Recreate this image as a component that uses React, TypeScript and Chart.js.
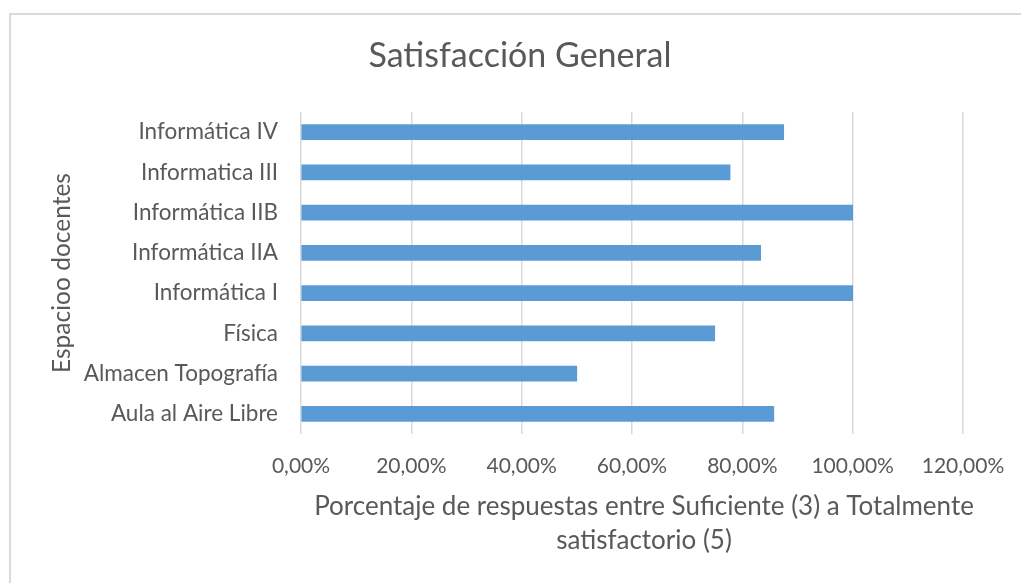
import React, { useEffect, useRef } from "react";
import { Chart, registerables } from "chart.js";

Chart.register(...registerables);

const categories: string[] = [
  "Informática IV",
  "Informatica III",
  "Informática IIB",
  "Informática IIA",
  "Informática I",
  "Física",
  "Almacen Topografía",
  "Aula al Aire Libre",
];

const seriesValues: number[] = [87.5, 77.78, 100, 83.33, 100, 75, 50, 85.71];

const xTickValues: number[] = [0, 20, 40, 60, 80, 100, 120];

const chartTitle = "Satisfacción General";
const xAxisTitle: string[] = [
  "Porcentaje de respuestas entre Suficiente (3) a Totalmente",
  "satisfactorio (5)",
];
const yAxisTitle = "Espacioo docentes";

const FONT = "Lato, 'Open Sans', sans-serif";
const TEXT = "#595959";
const GRID = "#d9d9d9";

const textPlugin = {
  id: "excelTexts",
  afterDraw(chart: any) {
    const ctx = chart.ctx;
    ctx.save();
    ctx.fillStyle = TEXT;
    ctx.textAlign = "center";
    ctx.textBaseline = "middle";
    ctx.font = `34px ${FONT}`;
    ctx.fillText(chartTitle, 520, 56);
    ctx.font = `26px ${FONT}`;
    const cx = (chart.chartArea.left + chart.chartArea.right) / 2 + 12;
    xAxisTitle.forEach((line, i) => {
      ctx.fillText(line, cx, 507 + i * 34);
    });
    ctx.restore();
  },
};

export default function App() {
  const ref = useRef<HTMLCanvasElement | null>(null);

  useEffect(() => {
    if (!ref.current) return;
    const xTickSize = 21;
    const yTickSize = 22.5;
    const chart = new Chart(ref.current, {
      type: "bar",
      data: {
        labels: categories,
        datasets: [
          {
            data: seriesValues,
            backgroundColor: "#5b9bd5",
            borderWidth: 0,
            barThickness: 15,
          },
        ],
      },
      plugins: [textPlugin],
      options: {
        indexAxis: "y",
        animation: false,
        responsive: false,
        maintainAspectRatio: false,
        layout: { padding: { top: 112, left: 0, right: 77, bottom: 0 } },
        plugins: {
          legend: { display: false },
          tooltip: { enabled: false },
          title: { display: false },
        },
        scales: {
          x: {
            type: "linear",
            min: xTickValues[0],
            max: xTickValues[xTickValues.length - 1],
            afterBuildTicks: (scale: any) => {
              scale.ticks = xTickValues.map((v) => ({ value: v }));
            },
            afterFit: (scale: any) => {
              scale.height = 583 - 434;
            },
            ticks: {
              color: TEXT,
              font: { family: FONT, size: xTickSize, lineHeight: 1.2 },
              padding: 32 - 0.6 * xTickSize,
              maxRotation: 0,
              callback: (v: any) => Number(v).toFixed(2).replace(".", ",") + "%",
            },
            grid: { color: GRID, lineWidth: 1.5, drawTicks: false },
            border: { display: false },
          },
          y: {
            type: "category",
            afterFit: (scale: any) => {
              scale.width = 301;
            },
            ticks: {
              color: TEXT,
              font: { family: FONT, size: yTickSize, lineHeight: 1.2 },
              padding: 23,
            },
            grid: { display: false, drawTicks: false },
            border: { display: false },
            title: {
              display: true,
              text: yAxisTitle,
              color: TEXT,
              font: { family: FONT, size: 24.5, lineHeight: "30px" },
              padding: { top: 47, bottom: 0 },
            },
          },
        },
      },
    });
    return () => chart.destroy();
  }, []);

  return (
    <div
      style={{
        position: "fixed",
        left: 0,
        top: 0,
        width: 1021,
        height: 583,
        overflow: "hidden",
        background: "#ffffff",
      }}
    >
      <div
        style={{
          position: "absolute",
          left: 9,
          top: 13,
          width: 1200,
          height: 800,
          border: "2px solid #dadada",
          boxSizing: "border-box",
        }}
      />
      <canvas
        ref={ref}
        width={1040}
        height={583}
        style={{ position: "absolute", left: 0, top: 0, width: 1040, height: 583 }}
      />
    </div>
  );
}
